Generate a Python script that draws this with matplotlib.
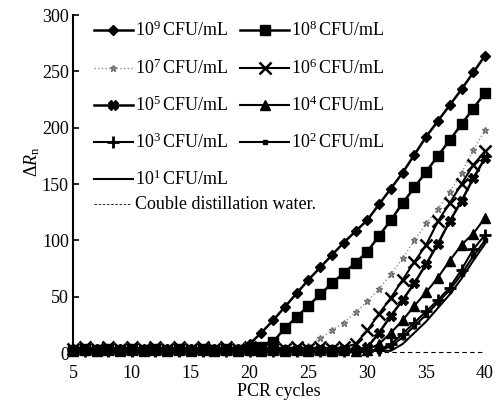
import matplotlib
matplotlib.use("Agg")
import matplotlib.pyplot as plt

plt.rcParams['font.family'] = ['Liberation Serif', 'DejaVu Serif']
plt.rcParams['mathtext.fontset'] = 'custom'
plt.rcParams['mathtext.rm'] = 'Liberation Serif'
plt.rcParams['mathtext.it'] = 'Liberation Serif:italic'

cycles = list(range(5, 41))

s1e9 = [4, 3, 4, 3, 4, 3, 4, 3, 4, 3, 4, 3, 4, 3, 4,
        8, 18, 29, 41, 53, 65, 76, 87, 98, 108, 118, 132, 146, 160, 176, 192, 206, 220, 234, 249, 264]
s1e8 = [3, 4, 3, 4, 3, 4, 3, 4, 3, 4, 3, 4, 3, 4, 3, 4,
        5, 10, 22, 32, 42, 52, 62, 71, 80, 90, 104, 118, 133, 147, 161, 175, 189, 203, 217, 231]
s1e7 = [3, 2, 3, 2, 3, 2, 3, 2, 3, 2, 3, 2, 3, 2, 3, 2, 3, 2, 3, 3,
        6, 13, 20, 27, 36, 46, 57, 70, 84, 100, 115, 128, 143, 160, 180, 198]
s1e6 = [4, 5, 4, 5, 4, 5, 4, 5, 4, 5, 4, 5, 4, 5, 4, 5, 4, 5, 4, 5, 4, 5, 4, 5,
        8, 20, 35, 49, 65, 81, 96, 117, 133, 150, 167, 179]
s1e5 = [3, 4, 3, 4, 3, 4, 3, 4, 3, 4, 3, 4, 3, 4, 3, 4, 3, 4, 3, 4, 3, 4, 3, 4, 3,
        5, 18, 33, 47, 62, 79, 97, 117, 135, 155, 173]
s1e4 = [2, 3, 2, 3, 2, 3, 2, 3, 2, 3, 2, 3, 2, 3, 2, 3, 2, 3, 2, 3, 2, 3, 2, 3, 2, 3,
        8, 18, 29, 42, 54, 67, 82, 96, 106, 120]
s1e3 = [3, 2, 3, 2, 3, 2, 3, 2, 3, 2, 3, 2, 3, 2, 3, 2, 3, 2, 3, 2, 3, 2, 3, 2, 3, 2, 3,
        8, 17, 27, 37, 47, 58, 74, 92, 105]
s1e2 = [2, 3, 2, 3, 2, 3, 2, 3, 2, 3, 2, 3, 2, 3, 2, 3, 2, 3, 2, 3, 2, 3, 2, 3, 2, 3, 2,
        6, 14, 24, 34, 45, 56, 70, 86, 100]
s1e1 = [2, 2, 2, 2, 2, 2, 2, 2, 2, 2, 2, 2, 2, 2, 2, 2, 2, 2, 2, 2, 2, 2, 2, 2, 2, 2, 2, 2,
        8, 18, 28, 40, 52, 66, 82, 97]
water = [1] * 36

labels = [r"10$^{9}\,$CFU/mL", r"10$^{8}\,$CFU/mL", r"10$^{7}\,$CFU/mL", r"10$^{6}\,$CFU/mL",
          r"10$^{5}\,$CFU/mL", r"10$^{4}\,$CFU/mL", r"10$^{3}\,$CFU/mL", r"10$^{2}\,$CFU/mL",
          r"10$^{1}\,$CFU/mL", "Couble distillation water."]

styles = [
    dict(color='black', lw=1.8, marker='D', ms=5.5),
    dict(color='black', lw=1.8, marker='s', ms=6.5),
    dict(color='#909090', lw=1.0, ls=':', marker='*', ms=5, mfc='#b0b0b0', mec='#707070'),
    dict(color='black', lw=1.5, marker='x', ms=8, mew=1.8),
    dict(color='black', lw=1.8, marker='X', ms=7),
    dict(color='black', lw=1.5, marker='^', ms=6.5),
    dict(color='black', lw=1.5, marker='+', ms=9, mew=2),
    dict(color='black', lw=1.5, marker='s', ms=2.5),
    dict(color='black', lw=1.5),
    dict(color='black', lw=0.8, ls=(0, (4, 3))),
]
series = [s1e9, s1e8, s1e7, s1e6, s1e5, s1e4, s1e3, s1e2, s1e1, water]

fig = plt.figure(figsize=(4.98, 4.0), dpi=100)
ax = fig.add_axes([0.1466, 0.109, 0.8274, 0.8535])

for ys, st in zip(series, styles):
    ax.plot(cycles, ys, clip_on=False, **st)

ax.set_xlim(5, 40)
ax.set_ylim(-3, 300)
ax.set_xticks([5, 10, 15, 20, 25, 30, 35, 40])
ax.set_yticks([0, 50, 100, 150, 200, 250, 300])
for s in ['top', 'right', 'bottom']:
    ax.spines[s].set_visible(False)
ax.spines['left'].set_linewidth(1.5)
ax.tick_params(axis='y', direction='in', length=4, width=1.2, labelsize=13, pad=3)
ax.tick_params(axis='x', length=0, labelsize=13, pad=6)
ax.set_xlabel("PCR cycles", fontsize=13, labelpad=1)
ax.set_ylabel(r"$\Delta R_{\rm n}$", fontsize=13)
ax.yaxis.set_label_coords(-0.075, 0.57)

# manual legend (axes fraction coordinates)
rows = [0.955, 0.845, 0.735, 0.628, 0.52]
col_line = [(0.05, 0.145), (0.405, 0.525)]
order = [(0, 0, 0), (1, 0, 1), (2, 1, 0), (3, 1, 1), (4, 2, 0), (5, 2, 1),
         (6, 3, 0), (7, 3, 1), (8, 4, 0)]
for idx, r, c in order:
    x0, x1 = col_line[c]
    st = dict(styles[idx])
    ax.plot([x0, (x0 + x1) / 2, x1], [rows[r]] * 3, transform=ax.transAxes, clip_on=False,
            markevery=[1], **st)
    ax.text(x1 + 0.005, rows[r], labels[idx], transform=ax.transAxes,
            fontsize=13, va='center', ha='left')
ax.plot([0.05, 0.14], [0.445, 0.445], transform=ax.transAxes, clip_on=False,
        color='black', lw=0.6, ls=(0, (3, 2)))
ax.text(0.15, 0.445, labels[9], transform=ax.transAxes, fontsize=13, va='center', ha='left')

fig.savefig("out.png", dpi=100)
